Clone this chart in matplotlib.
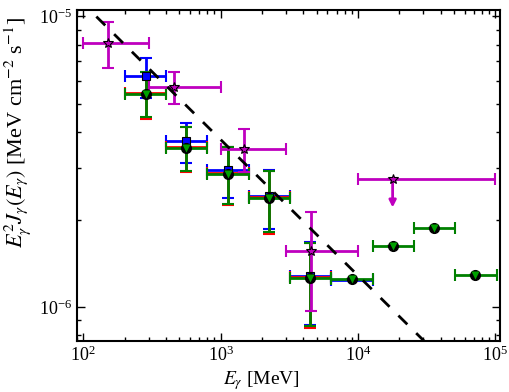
import numpy as np
import matplotlib
matplotlib.use('Agg')
import matplotlib.pyplot as plt

plt.rcParams['font.family'] = ['Liberation Serif', 'DejaVu Serif']
plt.rcParams['mathtext.fontset'] = 'stix'

# Magenta series (stars)
mag_E = np.array([151, 461, 1490, 4550, 17900])
mag_Elo = np.array([100, 300, 1000, 3000, 10000])
mag_Ehi = np.array([300, 1000, 3000, 10000, 100000])
mag_F = np.array([8.12e-6, 5.70e-6, 3.49e-6, 1.56e-6, 2.76e-6])
mag_Fhi = np.array([9.56e-6, 6.44e-6, 4.11e-6, 2.12e-6, 2.76e-6])
mag_Flo = np.array([6.64e-6, 4.99e-6, 2.92e-6, 9.71e-7, 2.76e-6])
mag_ul_E = 17900
mag_ul_end = 2.20e-6

# Blue series (squares)
blue_E = np.array([284, 564, 1127, 2265, 4500, 8995])
blue_Elo = np.array([200, 400, 800, 1600, 3200, 6400])
blue_Ehi = np.array([400, 800, 1600, 3200, 6400, 12800])
blue_F = np.array([6.22e-6, 3.74e-6, 2.97e-6, 2.41e-6, 1.28e-6, 1.235e-6])
blue_Fhi = np.array([7.19e-6, 4.31e-6, 3.55e-6, 2.97e-6, 1.68e-6, 1.235e-6])
blue_Flo = np.array([5.24e-6, 3.14e-6, 2.37e-6, 1.85e-6, 8.67e-7, 1.235e-6])

# Red series
red_E = np.array([284, 564, 1127, 2265, 4500])
red_Elo = np.array([200, 400, 800, 1600, 3200])
red_Ehi = np.array([400, 800, 1600, 3200, 6400])
red_F = np.array([5.47e-6, 3.55e-6, 2.885e-6, 2.40e-6, 1.27e-6])
red_Fhi = np.array([6.44e-6, 4.17e-6, 3.56e-6, 2.94e-6, 1.66e-6])
red_Flo = np.array([4.45e-6, 2.91e-6, 2.25e-6, 1.79e-6, 8.50e-7])

# Green series (triangles)
green_E = np.array([284, 564, 1127, 2265, 4500, 8995, 17870, 35700, 71800])
green_Elo = np.array([200, 400, 800, 1600, 3200, 6400, 12800, 25600, 51200])
green_Ehi = np.array([400, 800, 1600, 3200, 6400, 12800, 25600, 51200, 102400])
green_F = np.array([5.42e-6, 3.52e-6, 2.86e-6, 2.38e-6, 1.26e-6, 1.245e-6, 1.62e-6, 1.865e-6, 1.285e-6])
green_Fhi = np.array([6.44e-6, 4.17e-6, 3.56e-6, 2.94e-6, 1.66e-6, 1.245e-6, 1.62e-6, 1.865e-6, 1.285e-6])
green_Flo = np.array([4.49e-6, 2.94e-6, 2.27e-6, 1.81e-6, 8.60e-7, 1.245e-6, 1.62e-6, 1.865e-6, 1.285e-6])

# Dashed power-law model
model_F0 = 1e-5
model_E0 = 124.0
model_index = 0.4675

fig = plt.figure(figsize=(5.1, 3.92), dpi=100)
ax = fig.add_axes([0.151, 0.130, 0.829, 0.844])
ax.set_xscale('log')
ax.set_yscale('log')

def eb(E, Elo, Ehi, F, Flo, Fhi, color, z):
    ax.errorbar(E, F, xerr=[E - Elo, Ehi - E], yerr=[F - Flo, Fhi - F],
                fmt='none', ecolor=color, elinewidth=2, capsize=4, capthick=1.5, zorder=z)

eb(blue_E, blue_Elo, blue_Ehi, blue_F, blue_Flo, blue_Fhi, 'blue', 2)
eb(red_E, red_Elo, red_Ehi, red_F, red_Flo, red_Fhi, 'red', 3)
eb(green_E, green_Elo, green_Ehi, green_F, green_Flo, green_Fhi, 'green', 4)
eb(mag_E, mag_Elo, mag_Ehi, mag_F, mag_Flo, mag_Fhi, 'm', 5)

ax.plot(blue_E[:5], blue_F[:5], 's', ms=6, mfc='blue', mec='k', mew=0.8, zorder=6)
ax.plot(green_E, green_F, 'o', ms=7, mfc='k', mec='k', zorder=6)
ax.plot(green_E, green_F, 'v', ms=5.5, mfc='#00a000', mec='none', zorder=7)
ax.plot(mag_E, mag_F, '*', ms=7, mfc='m', mec='k', mew=0.8, zorder=7)
ax.annotate('', xy=(mag_ul_E, mag_ul_end), xytext=(mag_ul_E, mag_F[-1]),
            arrowprops=dict(arrowstyle='-|>', color='m', lw=2, mutation_scale=10,
                            shrinkA=0, shrinkB=0), zorder=5)

xl = np.array([90, 1.08e5])
xx = np.logspace(np.log10(xl[0]), np.log10(xl[1]), 50)
ax.plot(xx, model_F0 * (xx / model_E0) ** (-model_index), color='k', lw=2,
        dashes=(4.5, 4.5), zorder=8)

ax.set_xlim(xl)
ax.set_ylim(7.64e-7, 1.05e-5)
ax.tick_params(which='both', direction='in', top=True, right=True, labelsize=13)
ax.tick_params(which='major', length=6, width=1)
ax.tick_params(which='minor', length=3, width=1)
for s in ax.spines.values():
    s.set_linewidth(1.5)
ax.set_xlabel(r'$E_\gamma$ [MeV]', fontsize=14)
ax.xaxis.set_label_coords(0.437, -0.085)
ax.set_ylabel(r'$E_\gamma^2 J_\gamma(E_\gamma)$ [MeV cm$^{-2}$ s$^{-1}$]', fontsize=16)
ax.yaxis.set_label_coords(-0.103, 0.63)

fig.savefig('out.png', dpi=100)
